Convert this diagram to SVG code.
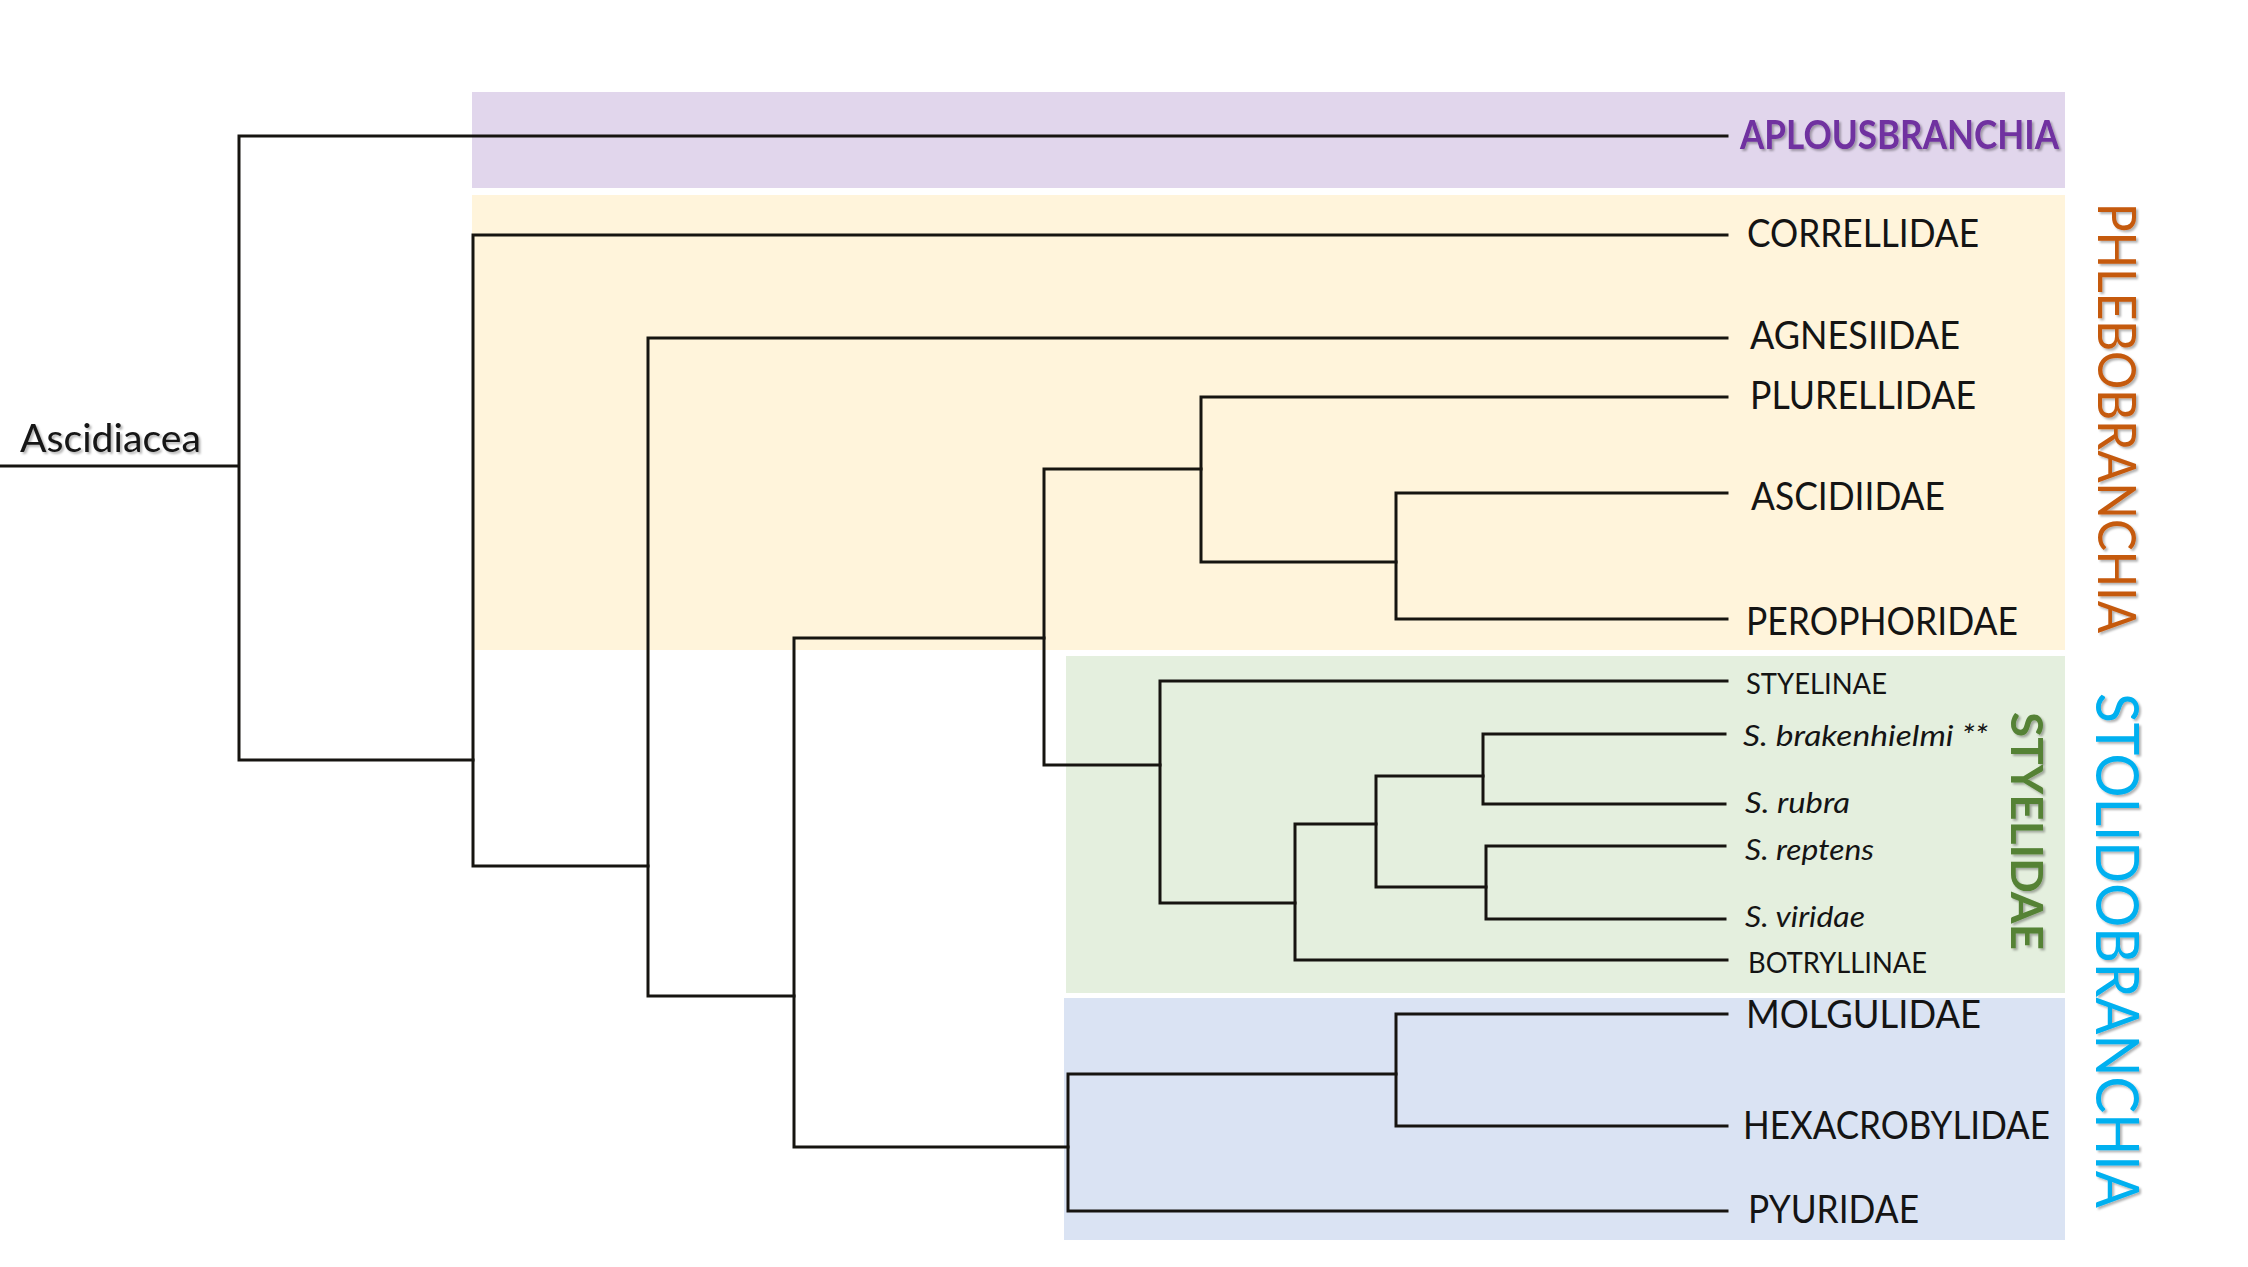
<svg xmlns="http://www.w3.org/2000/svg" width="2248" height="1267" viewBox="0 0 2248 1267">
<defs>
<style>
.bg{stroke:none}
.ln{stroke:#161410;stroke-width:3;fill:none;stroke-linecap:square}
.lb{font-family:Lato,"Open Sans","Liberation Sans",sans-serif;font-size:38px;fill:#141414}
.sm{font-size:28px}
.it{font-style:italic}
</style>
<filter id="sh" x="-10%" y="-10%" width="130%" height="130%">
<feDropShadow dx="2" dy="2" stdDeviation="1.3" flood-color="#000" flood-opacity="0.3"/>
</filter>
</defs>
<rect width="2248" height="1267" fill="#fff"/>
<g id="regions">
<rect id="box-aplousbranchia" class="bg" x="472" y="92" width="1593" height="96" fill="#E1D6EC"/>
<rect id="box-phlebobranchia" class="bg" x="472" y="195" width="1593" height="455" fill="#FFF4DB"/>
<rect id="box-styelidae" class="bg" x="1066" y="656" width="999" height="337" fill="#E4EFDE"/>
<rect id="box-stolidobranchia" class="bg" x="1064" y="998" width="1001" height="242" fill="#DAE3F3"/>
</g>
<g id="connectors">
<path class="ln" d="M0 466H239M239 136V760M239 136H1727M239 760H473"/>
<path class="ln" d="M473 235V866M473 235H1727M473 866H648"/>
<path class="ln" d="M648 338V996M648 338H1727M648 996H794"/>
<path class="ln" d="M794 638V1147M794 638H1044M794 1147H1068"/>
<path class="ln" d="M1044 469V765M1044 469H1201M1044 765H1160"/>
<path class="ln" d="M1201 397V562M1201 397H1727M1201 562H1396"/>
<path class="ln" d="M1396 493V619M1396 493H1727M1396 619H1727"/>
<path class="ln" d="M1160 681V903M1160 681H1727M1160 903H1295"/>
<path class="ln" d="M1295 824V960M1295 960H1727M1295 824H1376"/>
<path class="ln" d="M1376 776V887M1376 776H1483M1376 887H1486"/>
<path class="ln" d="M1483 734V804M1483 734H1725M1483 804H1725"/>
<path class="ln" d="M1486 846V919M1486 846H1725M1486 919H1725"/>
<path class="ln" d="M1068 1074V1211M1068 1074H1396M1068 1211H1727"/>
<path class="ln" d="M1396 1014V1126M1396 1014H1727M1396 1126H1727"/>
</g>
<g id="root" filter="url(#sh)"><text class="lb" x="20" y="452" textLength="181" lengthAdjust="spacingAndGlyphs">Ascidiacea</text></g>
<g id="aplousbranchia" filter="url(#sh)"><text class="lb" x="1740" y="149" textLength="319" lengthAdjust="spacingAndGlyphs" style="font-size:40px;font-weight:bold;fill:#7030A0">APLOUSBRANCHIA</text></g>
<g id="correllidae"><text class="lb" x="1747" y="247" textLength="232" lengthAdjust="spacingAndGlyphs">CORRELLIDAE</text></g>
<g id="agnesiidae"><text class="lb" x="1750" y="349" textLength="210" lengthAdjust="spacingAndGlyphs">AGNESIIDAE</text></g>
<g id="plurellidae"><text class="lb" x="1750" y="409" textLength="226" lengthAdjust="spacingAndGlyphs">PLURELLIDAE</text></g>
<g id="ascidiidae"><text class="lb" x="1751" y="510" textLength="194" lengthAdjust="spacingAndGlyphs">ASCIDIIDAE</text></g>
<g id="perophoridae"><text class="lb" x="1746" y="635" textLength="272" lengthAdjust="spacingAndGlyphs">PEROPHORIDAE</text></g>
<g id="styelinae"><text class="lb sm" x="1746" y="694" textLength="141" lengthAdjust="spacingAndGlyphs">STYELINAE</text></g>
<g id="s-brakenhielmi"><text class="lb sm it" x="1743" y="746" textLength="245" lengthAdjust="spacingAndGlyphs">S. brakenhielmi **</text></g>
<g id="s-rubra"><text class="lb sm it" x="1745" y="813" textLength="105" lengthAdjust="spacingAndGlyphs">S. rubra</text></g>
<g id="s-reptens"><text class="lb sm it" x="1745" y="860" textLength="129" lengthAdjust="spacingAndGlyphs">S. reptens</text></g>
<g id="s-viridae"><text class="lb sm it" x="1745" y="927" textLength="120" lengthAdjust="spacingAndGlyphs">S. viridae</text></g>
<g id="botryllinae"><text class="lb sm" x="1748" y="973" textLength="179" lengthAdjust="spacingAndGlyphs">BOTRYLLINAE</text></g>
<g id="molgulidae"><text class="lb" x="1746" y="1028" textLength="235" lengthAdjust="spacingAndGlyphs">MOLGULIDAE</text></g>
<g id="hexacrobylidae"><text class="lb" x="1743" y="1139" textLength="307" lengthAdjust="spacingAndGlyphs">HEXACROBYLIDAE</text></g>
<g id="pyuridae"><text class="lb" x="1748" y="1223" textLength="171" lengthAdjust="spacingAndGlyphs">PYURIDAE</text></g>
<g id="phlebobranchia" filter="url(#sh)"><text class="lb" transform="translate(2098,203) rotate(90)" textLength="430" lengthAdjust="spacingAndGlyphs" style="font-size:52px;fill:#C55A11">PHLEBOBRANCHIA</text></g>
<g id="stolidobranchia" filter="url(#sh)"><text class="lb" transform="translate(2096,693) rotate(90)" textLength="515" lengthAdjust="spacingAndGlyphs" style="font-size:60px;fill:#00B0F0">STOLIDOBRANCHIA</text></g>
<g id="styelidae" filter="url(#sh)"><text class="lb" transform="translate(2011,712) rotate(90)" textLength="238" lengthAdjust="spacingAndGlyphs" style="font-size:44px;font-weight:bold;fill:#548235">STYELIDAE</text></g>
</svg>
